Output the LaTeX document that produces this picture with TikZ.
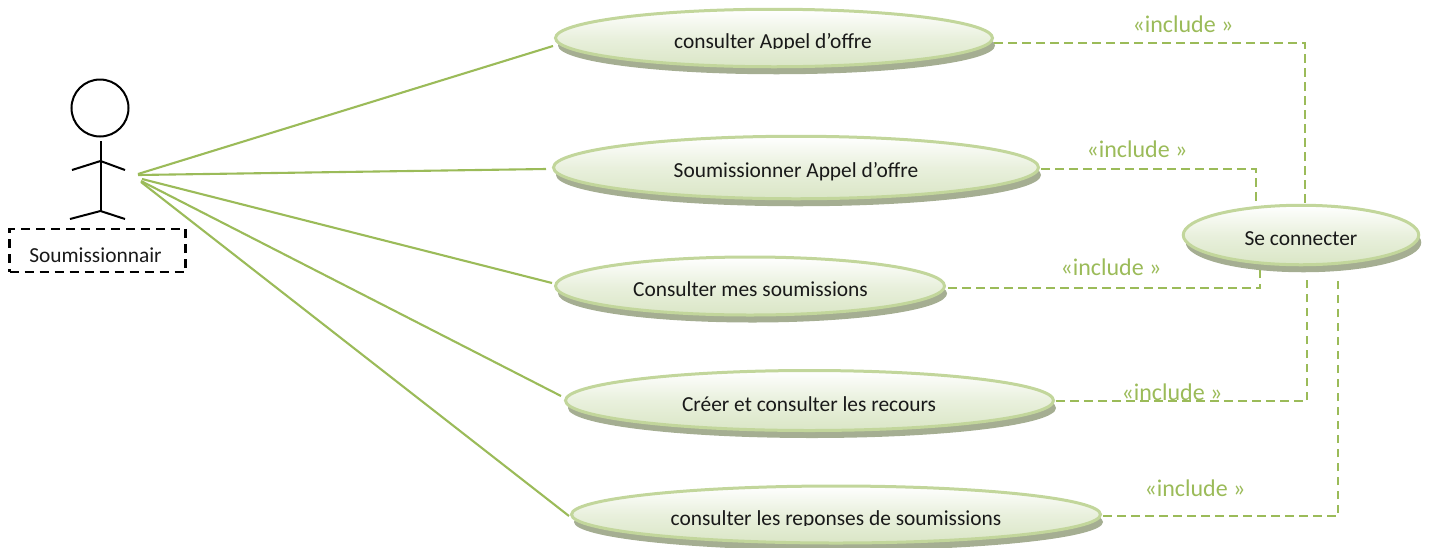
\documentclass[tikz,border=0pt]{standalone}
\usepackage{fontspec}
\setmainfont{Carlito}
\usetikzlibrary{shapes.geometric,shadows}
\definecolor{ucgreen}{HTML}{9BBB59}
\definecolor{ucborder}{HTML}{C2D69B}
\definecolor{ucshadow}{HTML}{A5AE92}
\definecolor{ucbottom}{HTML}{DAE6C6}
\tikzset{
  usecase/.style={ellipse,inner sep=0pt,outer sep=0pt,draw=ucborder,line width=3pt,
    top color=white,bottom color=ucbottom,middle color=ucbottom!60,
    general shadow={fill=ucshadow,shadow xshift=2.5pt,shadow yshift=-7.5pt}},
  uctext/.style={anchor=base,inner sep=0pt,font=\fontsize{21.4}{25}\selectfont,text=black!90},
  inctext/.style={anchor=base,inner sep=0pt,font=\fontsize{24}{28}\selectfont,text=ucgreen},
  assoc/.style={draw=ucgreen,line width=2.1pt},
  incl/.style={draw=ucgreen,line width=2.1pt,dash pattern=on 8.5pt off 5.5pt},
  stick/.style={draw=black,line width=2pt}
}
\begin{document}
\begin{tikzpicture}[x=1pt,y=-1pt]
\useasboundingbox (0,0) rectangle (1430,547);
% actor
\node[circle,draw=black,line width=2pt,minimum size=57pt,inner sep=0pt] (head) at (100,108) {};
\coordinate (neck) at (100.5,141);
\coordinate (shoulder) at (100.5,161);
\coordinate (hip) at (100.5,211);
\coordinate (handL) at (72,170);
\coordinate (handR) at (125,170);
\coordinate (footL) at (70,219);
\coordinate (footR) at (125,219);
\draw[stick] (neck) -- (hip);
\draw[stick] (handL) -- (shoulder) -- (handR);
\draw[stick] (footL) -- (hip) -- (footR);
\node[draw=black,line width=2.6pt,dash pattern=on 9pt off 6pt,minimum width=176pt,minimum height=43pt,inner sep=0pt] (actor) at (97.5,250.5) {};
\node[uctext] (actorlabel) at (95.5,262) {Soumissionnair};
% use cases
\node[usecase,minimum width=437pt,minimum height=57.5pt] (e1) at (774,38) {};
\node[usecase,minimum width=485pt,minimum height=62.5pt] (e2) at (796,167.5) {};
\node[usecase,minimum width=389pt,minimum height=58pt] (e3) at (750,286) {};
\node[usecase,minimum width=488pt,minimum height=60pt] (e4) at (809.5,400.5) {};
\node[usecase,minimum width=529pt,minimum height=57pt] (e5) at (836,514.5) {};
\node[usecase,minimum width=235.5pt,minimum height=59.5pt] (e6) at (1301,235) {};
% use case labels (two are cut off at the baseline in the reference)
\begin{scope}
\clip (600,20) rectangle (950,48.5);
\node[uctext] (t1) at (773,48.5) {consulter Appel d’offre};
\end{scope}
\node[uctext] (t2) at (796,177) {Soumissionner Appel d’offre};
\node[uctext] (t3) at (750.5,296) {Consulter mes soumissions};
\node[uctext] (t4) at (809,411) {Créer et consulter les recours};
\begin{scope}
\clip (620,500) rectangle (1050,525.5);
\node[uctext] (t5) at (836,525.5) {consulter les reponses de soumissions};
\end{scope}
\node[uctext] (t6) at (1301,245.5) {Se connecter};
% associations
\coordinate (a1) at (138,174);
\coordinate (a2) at (138,175);
\coordinate (a3) at (142,179);
\coordinate (a4) at (141,181);
\coordinate (a5) at (141,182);
\coordinate (u1) at (553,46);
\coordinate (u2) at (546,169);
\coordinate (u3) at (552,283);
\coordinate (u4) at (561,396);
\coordinate (u5) at (569,516);
\draw[assoc] (a1) -- (u1);
\draw[assoc] (a2) -- (u2);
\draw[assoc] (a3) -- (u3);
\draw[assoc] (a4) -- (u4);
\draw[assoc] (a5) -- (u5);
% includes
\coordinate (s1) at (994,43);
\coordinate (s2) at (1041,169);
\coordinate (s3) at (948,288);
\coordinate (s4) at (1056,401);
\coordinate (s5) at (1103,516);
\coordinate (d1) at (1305,204);
\coordinate (d2) at (1256,204);
\coordinate (d3) at (1260,268);
\coordinate (d4) at (1307,277);
\coordinate (d5) at (1338,276);
\draw[incl] (s1) -| (d1);
\draw[incl] (s2) -| (d2);
\draw[incl] (s3) -| (d3);
\draw[incl] (s4) -| (d4);
\draw[incl] (s5) -| (d5);
\node[inctext] (i1) at (1183,32.5) {«include »};
\node[inctext] (i2) at (1137,157.5) {«include »};
\node[inctext] (i3) at (1111,275.5) {«include »};
\node[inctext] (i4) at (1172,400.5) {«include »};
\node[inctext] (i5) at (1195,496) {«include »};
\end{tikzpicture}
\end{document}
